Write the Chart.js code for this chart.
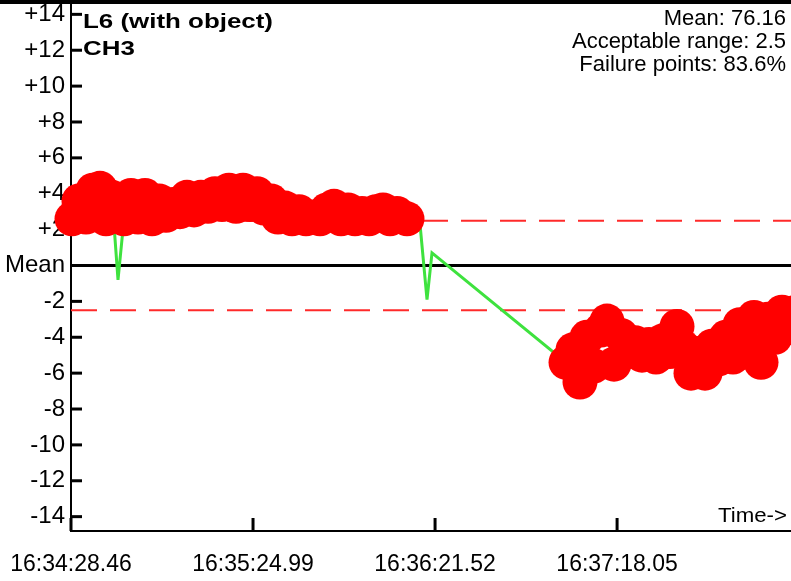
<!DOCTYPE html>
<html><head><meta charset="utf-8">
<script src="https://cdn.jsdelivr.net/npm/chart.js@4.4.1/dist/chart.umd.min.js"></script>
<style>html,body{margin:0;padding:0;background:#fff;}#wrap{width:791px;height:581px;position:relative;}</style>
</head><body><div id="wrap"><canvas id="c"></canvas></div>
<script>
// seconds elapsed since 16:34:28.46
const times = [0.31, 2.48, 4.66, 6.83, 9.01, 10.87, 12.73, 14.60, 16.46, 18.63, 20.81, 22.98, 25.16, 27.33, 29.50,
  31.68, 33.85, 36.02, 38.20, 40.37, 42.55, 44.72, 46.89, 49.07, 51.24, 53.42, 55.59, 57.76, 59.94, 62.11,
  64.29, 66.46, 68.63, 70.81, 72.98, 75.16, 77.33, 79.50, 81.68, 83.85, 86.02, 88.20, 90.37, 92.55, 94.72,
  96.89, 99.07, 101.24, 104.35, 108.39, 110.56, 112.11,
  153.73, 155.90, 158.07, 160.25, 162.42, 164.60, 166.46, 168.63, 170.81, 172.98, 175.16, 177.33, 179.50,
  181.68, 183.85, 186.02, 188.20, 190.37, 192.55, 194.72, 196.89, 199.07, 201.24, 203.42, 205.59, 207.76,
  209.94, 212.11, 214.29, 216.46, 218.63, 220.81, 222.98, 225.16];
// deviation from mean
const values = [2.6, 3.6, 2.7, 4.2, 4.3, 2.6, 3.8, -0.8, 2.6, 3.9, 2.7, 3.9, 2.6, 3.6, 2.8,
  3.4, 3.0, 3.8, 3.1, 3.8, 3.3, 4.0, 3.4, 4.2, 3.3, 4.2, 3.4, 4.0, 3.2, 3.6,
  2.7, 3.2, 2.6, 3.0, 2.6, 2.7, 2.6, 3.1, 3.3, 2.6, 3.1, 2.6, 2.9, 2.6, 3.0,
  3.1, 2.6, 2.9, 2.6, 2.3, -1.9, 0.7,
  -5.4, -4.7, -6.5, -4.0, -5.6, -3.6, -3.1, -5.5, -3.9, -4.8, -4.3, -5.0, -4.4,
  -5.1, -4.2, -4.8, -3.4, -4.6, -6.0, -4.9, -6.0, -4.5, -5.2, -4.0, -5.1, -3.3,
  -4.6, -2.9, -5.4, -3.0, -4.0, -2.6, -3.4, -2.6];
const acceptableRange = 2.5;
const xTickValues = [0, 56.53, 113.06, 169.59];
const xTickLabels = ['16:34:28.46', '16:35:24.99', '16:36:21.52', '16:37:18.05'];
const yTickValues = [-14, -12, -10, -8, -6, -4, -2, 0, 2, 4, 6, 8, 10, 12, 14];
const titleLines = ['L6 (with object)', 'CH3'];
const statLines = ['Mean: 76.16', 'Acceptable range: 2.5', 'Failure points: 83.6%'];
const axisCaption = 'Time->';

const FAM = '"Liberation Sans", Arial, sans-serif';
const RED = '#ff0000';
const GREEN = '#3ee23e';

const points = times.map((t, i) => ({x: t, y: values[i]}));

function stretchedText(ctx, text, x, y, font, align, targetW) {
  ctx.save();
  ctx.font = font;
  ctx.textBaseline = 'alphabetic';
  ctx.textAlign = 'left';
  const w = ctx.measureText(text).width;
  const sx = targetW ? targetW / w : 1;
  const left = align === 'right' ? x - w * sx : x;
  ctx.translate(left, y);
  ctx.scale(sx, 1);
  ctx.fillStyle = '#000';
  ctx.fillText(text, 0, 0);
  ctx.restore();
  return sx;
}

function noPad(s) { s.paddingLeft = 0; s.paddingRight = 0; s.paddingTop = 0; s.paddingBottom = 0; }

const decor = {
  id: 'decor',
  beforeDatasetsDraw(chart) {
    const {ctx, chartArea: a, scales: {x, y}} = chart;
    ctx.save();
    ctx.strokeStyle = '#ff2a2a';
    ctx.lineWidth = 2;
    ctx.setLineDash([26, 13]);
    [acceptableRange, -acceptableRange].forEach(v => {
      const py = y.getPixelForValue(v);
      ctx.beginPath(); ctx.moveTo(a.left, py); ctx.lineTo(a.right, py); ctx.stroke();
    });
    ctx.setLineDash([]);
    ctx.strokeStyle = '#000';
    ctx.lineWidth = 3;
    const p0 = y.getPixelForValue(0);
    ctx.beginPath(); ctx.moveTo(a.left, p0); ctx.lineTo(a.right, p0); ctx.stroke();
    ctx.lineWidth = 3;
    y.ticks.forEach(t => {
      if (t.value === 0) return;
      const py = y.getPixelForValue(t.value);
      ctx.beginPath(); ctx.moveTo(a.left, py); ctx.lineTo(a.left + 11, py); ctx.stroke();
    });
    x.ticks.forEach(t => {
      const px = x.getPixelForValue(t.value);
      ctx.beginPath(); ctx.moveTo(px, a.bottom); ctx.lineTo(px, a.bottom - 13); ctx.stroke();
    });
    ctx.restore();
  },
  afterDraw(chart) {
    const {ctx, width} = chart;
    ctx.save();
    ctx.fillStyle = '#000';
    ctx.fillRect(0, 0, width, 4);
    const sx = stretchedText(ctx, titleLines[0], 83, 28, 'bold 21px ' + FAM, 'left', 190);
    ctx.save();
    ctx.font = 'bold 21px ' + FAM;
    const w2 = ctx.measureText(titleLines[1]).width * sx;
    ctx.restore();
    stretchedText(ctx, titleLines[1], 83, 55, 'bold 21px ' + FAM, 'left', w2);
    const base = [25, 48, 71];
    statLines.forEach((s, i) => stretchedText(ctx, s, 786, base[i], '22px ' + FAM, 'right'));
    stretchedText(ctx, axisCaption, 787, 522, '20px ' + FAM, 'right', 69);
    ctx.restore();
  }
};

new Chart(document.getElementById('c'), {
  type: 'line',
  data: {
    datasets: [{
      data: points,
      borderColor: GREEN,
      borderWidth: 3,
      tension: 0,
      fill: false,
      clip: false,
      pointRadius: c => (c.raw && Math.abs(c.raw.y) > acceptableRange) ? 17.5 : 0,
      pointHoverRadius: 0,
      pointBackgroundColor: RED,
      pointBorderColor: RED,
      pointBorderWidth: 0
    }]
  },
  options: {
    responsive: true,
    maintainAspectRatio: false,
    animation: false,
    events: [],
    layout: {padding: 0, autoPadding: false},
    plugins: {legend: {display: false}, tooltip: {enabled: false}},
    scales: {
      x: {
        type: 'linear', min: 0, max: 223.6, z: 1,
        afterBuildTicks: s => { s.ticks = xTickValues.map(v => ({value: v})); },
        afterFit: s => { s.height = 50; noPad(s); },
        ticks: {
          callback: (v, i) => xTickLabels[i],
          font: {family: FAM, size: 23}, color: '#000', padding: 20,
          maxRotation: 0, autoSkip: false
        },
        grid: {display: false, drawTicks: false},
        border: {display: true, color: '#000', width: 2}
      },
      y: {
        type: 'linear', min: -14.8, max: 14.8, z: 1,
        afterBuildTicks: s => { s.ticks = yTickValues.map(v => ({value: v})); },
        afterFit: s => { s.width = 71; noPad(s); },
        ticks: {
          callback: v => v === 0 ? 'Mean' : (v > 0 ? '+' + v : String(v)),
          font: {family: FAM, size: 24}, color: '#000', padding: 6, autoSkip: false
        },
        grid: {display: false, drawTicks: false},
        border: {display: true, color: '#000', width: 2}
      }
    }
  },
  plugins: [decor]
});
</script>
</body></html>
